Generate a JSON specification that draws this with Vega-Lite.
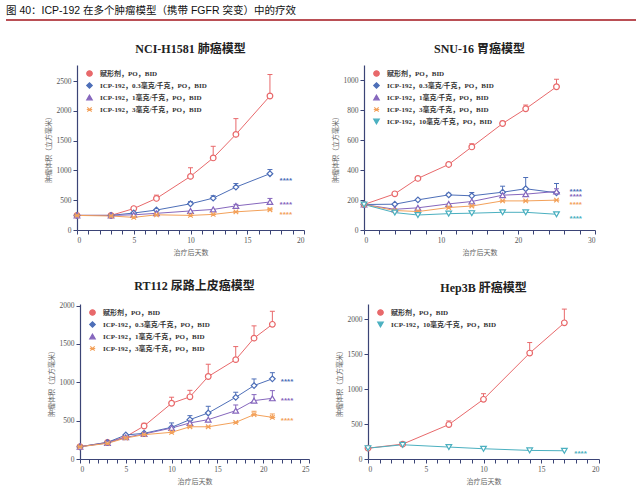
{
  "$schema": "https://vega.github.io/schema/vega-lite/v6.json",
  "background": "white",
  "padding": 5,
  "bounds": "flush",
  "spacing": 45,
  "resolve": {"scale": {"color": "independent", "shape": "independent"}, "legend": {"color": "independent", "shape": "independent"}},
  "config": {
    "view": {"stroke": null},
    "axis": {"grid": false, "domainColor": "#3b4476", "domainWidth": 1.2, "tickColor": "#3b4476", "tickSize": 4, "labelFont": "Liberation Serif", "labelFontSize": 7.5, "labelColor": "#555555", "labelPadding": 2, "titleFont": "Noto Sans CJK SC", "titleFontSize": 7, "titleFontWeight": "normal", "titleColor": "#666666", "titlePadding": 5, "format": "d"},
    "axisX": {"labelOverlap": false, "labelExpr": "datum.value % 5 === 0 ? datum.label : ''", "encode": {"ticks": {"update": {"y2": {"signal": "datum.value % 5 === 0 ? 4 : 2"}}}}},
    "legend": {"orient": "none", "legendX": 9, "legendY": 5, "padding": 0, "labelFont": "Liberation Serif, Noto Sans CJK SC", "labelFontSize": 7, "labelFontWeight": "bold", "labelColor": "#333333", "labelLimit": 250, "labelOffset": 7, "symbolSize": 30, "symbolStrokeWidth": 1.2, "symbolOpacity": 1, "rowPadding": 1, "titleFontSize": 0},
    "title": {"font": "Liberation Serif, Noto Sans CJK SC", "fontSize": 12, "fontWeight": "bold", "color": "#222222", "offset": 9, "anchor": "middle"}
  },
  "datasets": {
    "p1": [
      {"s": "赋形剂，PO，BID", "d": 0, "v": 245, "e": null},
      {"s": "赋形剂，PO，BID", "d": 3, "v": 245, "e": null},
      {"s": "赋形剂，PO，BID", "d": 5, "v": 360, "e": 390},
      {"s": "赋形剂，PO，BID", "d": 7, "v": 530, "e": 585},
      {"s": "赋形剂，PO，BID", "d": 10, "v": 900, "e": 1045},
      {"s": "赋形剂，PO，BID", "d": 12, "v": 1210, "e": 1405},
      {"s": "赋形剂，PO，BID", "d": 14, "v": 1605, "e": 1870},
      {"s": "赋形剂，PO，BID", "d": 17, "v": 2250, "e": 2610},
      {"s": "ICP-192，0.3毫克/千克，PO，BID", "d": 0, "v": 245, "e": null},
      {"s": "ICP-192，0.3毫克/千克，PO，BID", "d": 3, "v": 245, "e": null},
      {"s": "ICP-192，0.3毫克/千克，PO，BID", "d": 5, "v": 285, "e": null},
      {"s": "ICP-192，0.3毫克/千克，PO，BID", "d": 7, "v": 335, "e": null},
      {"s": "ICP-192，0.3毫克/千克，PO，BID", "d": 10, "v": 440, "e": 475},
      {"s": "ICP-192，0.3毫克/千克，PO，BID", "d": 12, "v": 535, "e": 575},
      {"s": "ICP-192，0.3毫克/千克，PO，BID", "d": 14, "v": 720, "e": 780},
      {"s": "ICP-192，0.3毫克/千克，PO，BID", "d": 17, "v": 945, "e": 1015},
      {"s": "ICP-192，1毫克/千克，PO，BID", "d": 0, "v": 245, "e": null},
      {"s": "ICP-192，1毫克/千克，PO，BID", "d": 3, "v": 245, "e": null},
      {"s": "ICP-192，1毫克/千克，PO，BID", "d": 5, "v": 255, "e": null},
      {"s": "ICP-192，1毫克/千克，PO，BID", "d": 7, "v": 280, "e": null},
      {"s": "ICP-192，1毫克/千克，PO，BID", "d": 10, "v": 320, "e": null},
      {"s": "ICP-192，1毫克/千克，PO，BID", "d": 12, "v": 345, "e": null},
      {"s": "ICP-192，1毫克/千克，PO，BID", "d": 14, "v": 405, "e": 430},
      {"s": "ICP-192，1毫克/千克，PO，BID", "d": 17, "v": 470, "e": 530},
      {"s": "ICP-192，3毫克/千克，PO，BID", "d": 0, "v": 245, "e": null},
      {"s": "ICP-192，3毫克/千克，PO，BID", "d": 3, "v": 235, "e": null},
      {"s": "ICP-192，3毫克/千克，PO，BID", "d": 5, "v": 212, "e": null},
      {"s": "ICP-192，3毫克/千克，PO，BID", "d": 7, "v": 255, "e": null},
      {"s": "ICP-192，3毫克/千克，PO，BID", "d": 10, "v": 245, "e": null},
      {"s": "ICP-192，3毫克/千克，PO，BID", "d": 12, "v": 262, "e": null},
      {"s": "ICP-192，3毫克/千克，PO，BID", "d": 14, "v": 305, "e": null},
      {"s": "ICP-192，3毫克/千克，PO，BID", "d": 17, "v": 340, "e": 365}
    ],
    "p2": [
      {"s": "赋形剂，PO，BID", "d": 0, "v": 170, "e": null},
      {"s": "赋形剂，PO，BID", "d": 4, "v": 241, "e": null},
      {"s": "赋形剂，PO，BID", "d": 7, "v": 344, "e": null},
      {"s": "赋形剂，PO，BID", "d": 11, "v": 437, "e": null},
      {"s": "赋形剂，PO，BID", "d": 14, "v": 554, "e": 575},
      {"s": "赋形剂，PO，BID", "d": 18, "v": 710, "e": 725},
      {"s": "赋形剂，PO，BID", "d": 21, "v": 808, "e": 833},
      {"s": "赋形剂，PO，BID", "d": 25, "v": 955, "e": 1005},
      {"s": "ICP-192，0.3毫克/千克，PO，BID", "d": 0, "v": 170, "e": null},
      {"s": "ICP-192，0.3毫克/千克，PO，BID", "d": 4, "v": 172, "e": null},
      {"s": "ICP-192，0.3毫克/千克，PO，BID", "d": 7, "v": 201, "e": null},
      {"s": "ICP-192，0.3毫克/千克，PO，BID", "d": 11, "v": 234, "e": 245},
      {"s": "ICP-192，0.3毫克/千克，PO，BID", "d": 14, "v": 228, "e": 250},
      {"s": "ICP-192，0.3毫克/千克，PO，BID", "d": 18, "v": 252, "e": 292},
      {"s": "ICP-192，0.3毫克/千克，PO，BID", "d": 21, "v": 275, "e": 350},
      {"s": "ICP-192，0.3毫克/千克，PO，BID", "d": 25, "v": 248, "e": 310},
      {"s": "ICP-192，1毫克/千克，PO，BID", "d": 0, "v": 170, "e": null},
      {"s": "ICP-192，1毫克/千克，PO，BID", "d": 4, "v": 138, "e": null},
      {"s": "ICP-192，1毫克/千克，PO，BID", "d": 7, "v": 148, "e": null},
      {"s": "ICP-192，1毫克/千克，PO，BID", "d": 11, "v": 174, "e": null},
      {"s": "ICP-192，1毫克/千克，PO，BID", "d": 14, "v": 190, "e": null},
      {"s": "ICP-192，1毫克/千克，PO，BID", "d": 18, "v": 232, "e": null},
      {"s": "ICP-192，1毫克/千克，PO，BID", "d": 21, "v": 239, "e": null},
      {"s": "ICP-192，1毫克/千克，PO，BID", "d": 25, "v": 257, "e": 275},
      {"s": "ICP-192，3毫克/千克，PO，BID", "d": 0, "v": 170, "e": null},
      {"s": "ICP-192，3毫克/千克，PO，BID", "d": 4, "v": 130, "e": null},
      {"s": "ICP-192，3毫克/千克，PO，BID", "d": 7, "v": 123, "e": null},
      {"s": "ICP-192，3毫克/千克，PO，BID", "d": 11, "v": 150, "e": null},
      {"s": "ICP-192，3毫克/千克，PO，BID", "d": 14, "v": 160, "e": null},
      {"s": "ICP-192，3毫克/千克，PO，BID", "d": 18, "v": 194, "e": null},
      {"s": "ICP-192，3毫克/千克，PO，BID", "d": 21, "v": 194, "e": null},
      {"s": "ICP-192，3毫克/千克，PO，BID", "d": 25, "v": 199, "e": null},
      {"s": "ICP-192，10毫克/千克，PO，BID", "d": 0, "v": 170, "e": null},
      {"s": "ICP-192，10毫克/千克，PO，BID", "d": 4, "v": 116, "e": null},
      {"s": "ICP-192，10毫克/千克，PO，BID", "d": 7, "v": 100, "e": null},
      {"s": "ICP-192，10毫克/千克，PO，BID", "d": 11, "v": 109, "e": null},
      {"s": "ICP-192，10毫克/千克，PO，BID", "d": 14, "v": 112, "e": null},
      {"s": "ICP-192，10毫克/千克，PO，BID", "d": 18, "v": 118, "e": null},
      {"s": "ICP-192，10毫克/千克，PO，BID", "d": 21, "v": 118, "e": null},
      {"s": "ICP-192，10毫克/千克，PO，BID", "d": 25, "v": 105, "e": null}
    ],
    "p3": [
      {"s": "赋形剂，PO，BID", "d": 0, "v": 160, "e": null},
      {"s": "赋形剂，PO，BID", "d": 3, "v": 217, "e": null},
      {"s": "赋形剂，PO，BID", "d": 5, "v": 291, "e": null},
      {"s": "赋形剂，PO，BID", "d": 7, "v": 430, "e": 465},
      {"s": "赋形剂，PO，BID", "d": 10, "v": 726, "e": 805},
      {"s": "赋形剂，PO，BID", "d": 12, "v": 810, "e": 895},
      {"s": "赋形剂，PO，BID", "d": 14, "v": 1075, "e": 1235},
      {"s": "赋形剂，PO，BID", "d": 17, "v": 1295, "e": 1465},
      {"s": "赋形剂，PO，BID", "d": 19, "v": 1575, "e": 1735},
      {"s": "赋形剂，PO，BID", "d": 21, "v": 1755, "e": 1925},
      {"s": "ICP-192，0.3毫克/千克，PO，BID", "d": 0, "v": 160, "e": null},
      {"s": "ICP-192，0.3毫克/千克，PO，BID", "d": 3, "v": 217, "e": null},
      {"s": "ICP-192，0.3毫克/千克，PO，BID", "d": 5, "v": 313, "e": null},
      {"s": "ICP-192，0.3毫克/千克，PO，BID", "d": 7, "v": 335, "e": null},
      {"s": "ICP-192，0.3毫克/千克，PO，BID", "d": 10, "v": 413, "e": 470},
      {"s": "ICP-192，0.3毫克/千克，PO，BID", "d": 12, "v": 513, "e": 565},
      {"s": "ICP-192，0.3毫克/千克，PO，BID", "d": 14, "v": 600, "e": 687},
      {"s": "ICP-192，0.3毫克/千克，PO，BID", "d": 17, "v": 804, "e": 870},
      {"s": "ICP-192，0.3毫克/千克，PO，BID", "d": 19, "v": 957, "e": 1043},
      {"s": "ICP-192，0.3毫克/千克，PO，BID", "d": 21, "v": 1045, "e": 1125},
      {"s": "ICP-192，1毫克/千克，PO，BID", "d": 0, "v": 160, "e": null},
      {"s": "ICP-192，1毫克/千克，PO，BID", "d": 3, "v": 209, "e": null},
      {"s": "ICP-192，1毫克/千克，PO，BID", "d": 5, "v": 283, "e": null},
      {"s": "ICP-192，1毫克/千克，PO，BID", "d": 7, "v": 326, "e": null},
      {"s": "ICP-192，1毫克/千克，PO，BID", "d": 10, "v": 404, "e": null},
      {"s": "ICP-192，1毫克/千克，PO，BID", "d": 12, "v": 470, "e": null},
      {"s": "ICP-192，1毫克/千克，PO，BID", "d": 14, "v": 513, "e": null},
      {"s": "ICP-192，1毫克/千克，PO，BID", "d": 17, "v": 630, "e": 704},
      {"s": "ICP-192，1毫克/千克，PO，BID", "d": 19, "v": 761, "e": 839},
      {"s": "ICP-192，1毫克/千克，PO，BID", "d": 21, "v": 791, "e": 891},
      {"s": "ICP-192，3毫克/千克，PO，BID", "d": 0, "v": 160, "e": null},
      {"s": "ICP-192，3毫克/千克，PO，BID", "d": 3, "v": 204, "e": null},
      {"s": "ICP-192，3毫克/千克，PO，BID", "d": 5, "v": 274, "e": null},
      {"s": "ICP-192，3毫克/千克，PO，BID", "d": 7, "v": 317, "e": null},
      {"s": "ICP-192，3毫克/千克，PO，BID", "d": 10, "v": 348, "e": null},
      {"s": "ICP-192，3毫克/千克，PO，BID", "d": 12, "v": 420, "e": null},
      {"s": "ICP-192，3毫克/千克，PO，BID", "d": 14, "v": 420, "e": null},
      {"s": "ICP-192，3毫克/千克，PO，BID", "d": 17, "v": 478, "e": null},
      {"s": "ICP-192，3毫克/千克，PO，BID", "d": 19, "v": 578, "e": 622},
      {"s": "ICP-192，3毫克/千克，PO，BID", "d": 21, "v": 543, "e": 587}
    ],
    "p4": [
      {"s": "赋形剂，PO，BID", "d": 0, "v": 155, "e": null},
      {"s": "赋形剂，PO，BID", "d": 3, "v": 213, "e": null},
      {"s": "赋形剂，PO，BID", "d": 7, "v": 493, "e": 545},
      {"s": "赋形剂，PO，BID", "d": 10, "v": 855, "e": 935},
      {"s": "赋形剂，PO，BID", "d": 14, "v": 1517, "e": 1668},
      {"s": "赋形剂，PO，BID", "d": 17, "v": 1950, "e": 2147},
      {"s": "ICP-192，10毫克/千克，PO，BID", "d": 0, "v": 155, "e": null},
      {"s": "ICP-192，10毫克/千克，PO，BID", "d": 3, "v": 204, "e": null},
      {"s": "ICP-192，10毫克/千克，PO，BID", "d": 7, "v": 171, "e": null},
      {"s": "ICP-192，10毫克/千克，PO，BID", "d": 10, "v": 147, "e": null},
      {"s": "ICP-192，10毫克/千克，PO，BID", "d": 14, "v": 123, "e": null},
      {"s": "ICP-192，10毫克/千克，PO，BID", "d": 17, "v": 118, "e": null}
    ],
    "s1": [
      {"s": "ICP-192，0.3毫克/千克，PO，BID", "d": 18.4, "v": 860, "t": "****"},
      {"s": "ICP-192，1毫克/千克，PO，BID", "d": 18.4, "v": 453, "t": "****"},
      {"s": "ICP-192，3毫克/千克，PO，BID", "d": 18.4, "v": 285, "t": "****"}
    ],
    "s2": [
      {"s": "ICP-192，0.3毫克/千克，PO，BID", "d": 27.5, "v": 266, "t": "****"},
      {"s": "ICP-192，1毫克/千克，PO，BID", "d": 27.5, "v": 233, "t": "****"},
      {"s": "ICP-192，3毫克/千克，PO，BID", "d": 27.5, "v": 183, "t": "****"},
      {"s": "ICP-192，10毫克/千克，PO，BID", "d": 27.5, "v": 87, "t": "****"}
    ],
    "s3": [
      {"s": "ICP-192，0.3毫克/千克，PO，BID", "d": 22.6, "v": 1033, "t": "****"},
      {"s": "ICP-192，1毫克/千克，PO，BID", "d": 22.6, "v": 780, "t": "****"},
      {"s": "ICP-192，3毫克/千克，PO，BID", "d": 22.6, "v": 527, "t": "****"}
    ],
    "s4": [
      {"s": "ICP-192，10毫克/千克，PO，BID", "d": 18.4, "v": 100, "t": "****"}
    ]
  },
  "vconcat": [
    {
      "width": 630,
      "height": 1,
      "title": {"text": "图 40：ICP-192 在多个肿瘤模型（携带 FGFR 突变）中的疗效", "anchor": "start", "frame": "group", "font": "Liberation Sans, Noto Sans CJK SC", "fontSize": 10.5, "fontWeight": "normal", "color": "#111111", "offset": 3},
      "data": {"values": [{}]},
      "mark": {"type": "rule", "color": "#a3141c", "strokeWidth": 1.5},
      "encoding": {
        "x": {"datum": 0, "type": "quantitative", "scale": {"domain": [0, 1]}, "axis": null},
        "x2": {"datum": 1},
        "y": {"datum": 0, "type": "quantitative", "scale": {"domain": [0, 1]}, "axis": null}
      }
    },
    {
      "bounds": "flush",
      "spacing": 239,
      "resolve": {"scale": {"color": "independent", "shape": "independent"}, "legend": {"color": "independent", "shape": "independent"}},
      "vconcat": [
        {
          "bounds": "flush",
          "spacing": 60,
          "resolve": {"scale": {"color": "independent", "shape": "independent"}, "legend": {"color": "independent", "shape": "independent"}},
          "hconcat": [
            {"width": 11, "height": 165, "data": {"values": []}, "mark": "point", "encoding": {}},
            {
              "width": 227, "height": 165,
              "title": "NCI-H1581 肺癌模型",
              "encoding": {
                "x": {"field": "d", "type": "quantitative", "scale": {"domain": [0, 20], "nice": false}, "axis": {"values": [0, 1, 2, 3, 4, 5, 6, 7, 8, 9, 10, 11, 12, 13, 14, 15, 16, 17, 18, 19, 20], "title": "治疗后天数"}},
                "y": {"field": "v", "type": "quantitative", "scale": {"domain": [0, 2770], "nice": false}, "axis": {"values": [0, 500, 1000, 1500, 2000, 2500], "title": "肿瘤体积（立方毫米）"}},
                "color": {"field": "s", "type": "nominal", "scale": {"domain": ["赋形剂，PO，BID", "ICP-192，0.3毫克/千克，PO，BID", "ICP-192，1毫克/千克，PO，BID", "ICP-192，3毫克/千克，PO，BID"], "range": ["#e8696b", "#4e6fb8", "#8667bd", "#f3a15a"]}, "legend": {"title": null}},
                "shape": {"field": "s", "type": "nominal", "scale": {"domain": ["赋形剂，PO，BID", "ICP-192，0.3毫克/千克，PO，BID", "ICP-192，1毫克/千克，PO，BID", "ICP-192，3毫克/千克，PO，BID"], "range": ["circle", "diamond", "triangle-up", "M-0.8,-0.8L0.8,0.8M-0.8,0.8L0.8,-0.8M-1,0L1,0"]}, "legend": {"title": null}}
              },
              "layer": [
                {"data": {"name": "p1"}, "mark": {"type": "point", "filled": false, "fill": "white", "size": 32, "strokeWidth": 1.2, "opacity": 0}},
                {"data": {"name": "p1"}, "mark": {"type": "rule", "strokeWidth": 1}, "encoding": {"y2": {"field": "e"}}},
                {"data": {"name": "p1"}, "mark": {"type": "point", "shape": "stroke", "filled": false, "size": 25, "strokeWidth": 1, "opacity": 1}, "encoding": {"y": {"field": "e", "type": "quantitative"}, "shape": {"value": "stroke"}}},
                {"data": {"name": "p1"}, "mark": {"type": "line", "strokeWidth": 1}},
                {"data": {"name": "p1"}, "mark": {"type": "point", "filled": false, "fill": "white", "size": 32, "strokeWidth": 1.2, "opacity": 1}},
                {"data": {"name": "s1"}, "mark": {"type": "text", "fontSize": 8, "fontWeight": "bold", "baseline": "middle", "dy": 2}, "encoding": {"text": {"field": "t"}, "shape": {"value": "circle"}, "color": {"field": "s", "type": "nominal", "legend": null}}}
              ]
            },
            {
              "width": 231, "height": 165,
              "title": "SNU-16 胃癌模型",
              "encoding": {
                "x": {"field": "d", "type": "quantitative", "scale": {"domain": [0, 30], "nice": false}, "axis": {"values": [0, 2, 4, 6, 8, 10, 12, 14, 16, 18, 20, 22, 24, 26, 28, 30], "title": "治疗后天数", "labelExpr": "datum.value % 10 === 0 ? datum.label : ''", "encode": {"ticks": {"update": {"y2": {"signal": "datum.value % 10 === 0 ? 4 : 2"}}}}}},
                "y": {"field": "v", "type": "quantitative", "scale": {"domain": [0, 1100], "nice": false}, "axis": {"values": [0, 200, 400, 600, 800, 1000], "title": "肿瘤体积（立方毫米）"}},
                "color": {"field": "s", "type": "nominal", "scale": {"domain": ["赋形剂，PO，BID", "ICP-192，0.3毫克/千克，PO，BID", "ICP-192，1毫克/千克，PO，BID", "ICP-192，3毫克/千克，PO，BID", "ICP-192，10毫克/千克，PO，BID"], "range": ["#e8696b", "#4e6fb8", "#8667bd", "#f3a15a", "#4bb0c0"]}, "legend": {"title": null}},
                "shape": {"field": "s", "type": "nominal", "scale": {"domain": ["赋形剂，PO，BID", "ICP-192，0.3毫克/千克，PO，BID", "ICP-192，1毫克/千克，PO，BID", "ICP-192，3毫克/千克，PO，BID", "ICP-192，10毫克/千克，PO，BID"], "range": ["circle", "diamond", "triangle-up", "M-0.8,-0.8L0.8,0.8M-0.8,0.8L0.8,-0.8M-1,0L1,0", "triangle-down"]}, "legend": {"title": null}}
              },
              "layer": [
                {"data": {"name": "p2"}, "mark": {"type": "point", "filled": false, "fill": "white", "size": 32, "strokeWidth": 1.2, "opacity": 0}},
                {"data": {"name": "p2"}, "mark": {"type": "rule", "strokeWidth": 1}, "encoding": {"y2": {"field": "e"}}},
                {"data": {"name": "p2"}, "mark": {"type": "point", "shape": "stroke", "filled": false, "size": 25, "strokeWidth": 1, "opacity": 1}, "encoding": {"y": {"field": "e", "type": "quantitative"}, "shape": {"value": "stroke"}}},
                {"data": {"name": "p2"}, "mark": {"type": "line", "strokeWidth": 1}},
                {"data": {"name": "p2"}, "mark": {"type": "point", "filled": false, "fill": "white", "size": 32, "strokeWidth": 1.2, "opacity": 1}},
                {"data": {"name": "s2"}, "mark": {"type": "text", "fontSize": 8, "fontWeight": "bold", "baseline": "middle", "dy": 2}, "encoding": {"text": {"field": "t"}, "shape": {"value": "circle"}, "color": {"field": "s", "type": "nominal", "legend": null}}}
              ]
            }
          ]
        },
        {
          "bounds": "flush",
          "spacing": 59,
          "resolve": {"scale": {"color": "independent", "shape": "independent"}, "legend": {"color": "independent", "shape": "independent"}},
          "hconcat": [
            {"width": 15, "height": 155, "data": {"values": []}, "mark": "point", "encoding": {}},
            {
              "width": 229, "height": 155,
              "title": "RT112 尿路上皮癌模型",
              "encoding": {
                "x": {"field": "d", "type": "quantitative", "scale": {"domain": [0, 25], "nice": false}, "axis": {"values": [0, 1, 2, 3, 4, 5, 6, 7, 8, 9, 10, 11, 12, 13, 14, 15, 16, 17, 18, 19, 20, 21, 22, 23, 24, 25], "title": "治疗后天数"}},
                "y": {"field": "v", "type": "quantitative", "scale": {"domain": [0, 2020], "nice": false}, "axis": {"values": [0, 500, 1000, 1500, 2000], "title": "肿瘤体积（立方毫米）"}},
                "color": {"field": "s", "type": "nominal", "scale": {"domain": ["赋形剂，PO，BID", "ICP-192，0.3毫克/千克，PO，BID", "ICP-192，1毫克/千克，PO，BID", "ICP-192，3毫克/千克，PO，BID"], "range": ["#e8696b", "#4e6fb8", "#8667bd", "#f3a15a"]}, "legend": {"title": null}},
                "shape": {"field": "s", "type": "nominal", "scale": {"domain": ["赋形剂，PO，BID", "ICP-192，0.3毫克/千克，PO，BID", "ICP-192，1毫克/千克，PO，BID", "ICP-192，3毫克/千克，PO，BID"], "range": ["circle", "diamond", "triangle-up", "M-0.8,-0.8L0.8,0.8M-0.8,0.8L0.8,-0.8M-1,0L1,0"]}, "legend": {"title": null}}
              },
              "layer": [
                {"data": {"name": "p3"}, "mark": {"type": "point", "filled": false, "fill": "white", "size": 32, "strokeWidth": 1.2, "opacity": 0}},
                {"data": {"name": "p3"}, "mark": {"type": "rule", "strokeWidth": 1}, "encoding": {"y2": {"field": "e"}}},
                {"data": {"name": "p3"}, "mark": {"type": "point", "shape": "stroke", "filled": false, "size": 25, "strokeWidth": 1, "opacity": 1}, "encoding": {"y": {"field": "e", "type": "quantitative"}, "shape": {"value": "stroke"}}},
                {"data": {"name": "p3"}, "mark": {"type": "line", "strokeWidth": 1}},
                {"data": {"name": "p3"}, "mark": {"type": "point", "filled": false, "fill": "white", "size": 32, "strokeWidth": 1.2, "opacity": 1}},
                {"data": {"name": "s3"}, "mark": {"type": "text", "fontSize": 8, "fontWeight": "bold", "baseline": "middle", "dy": 2}, "encoding": {"text": {"field": "t"}, "shape": {"value": "circle"}, "color": {"field": "s", "type": "nominal", "legend": null}}}
              ]
            },
            {
              "width": 231, "height": 155,
              "title": "Hep3B 肝癌模型",
              "encoding": {
                "x": {"field": "d", "type": "quantitative", "scale": {"domain": [0, 20], "nice": false}, "axis": {"values": [0, 1, 2, 3, 4, 5, 6, 7, 8, 9, 10, 11, 12, 13, 14, 15, 16, 17, 18, 19, 20], "title": "治疗后天数"}},
                "y": {"field": "v", "type": "quantitative", "scale": {"domain": [0, 2220], "nice": false}, "axis": {"values": [0, 500, 1000, 1500, 2000], "title": "肿瘤体积（立方毫米）"}},
                "color": {"field": "s", "type": "nominal", "scale": {"domain": ["赋形剂，PO，BID", "ICP-192，10毫克/千克，PO，BID"], "range": ["#e8696b", "#4bb0c0"]}, "legend": {"title": null}},
                "shape": {"field": "s", "type": "nominal", "scale": {"domain": ["赋形剂，PO，BID", "ICP-192，10毫克/千克，PO，BID"], "range": ["circle", "triangle-down"]}, "legend": {"title": null}}
              },
              "layer": [
                {"data": {"name": "p4"}, "mark": {"type": "point", "filled": false, "fill": "white", "size": 32, "strokeWidth": 1.2, "opacity": 0}},
                {"data": {"name": "p4"}, "mark": {"type": "rule", "strokeWidth": 1}, "encoding": {"y2": {"field": "e"}}},
                {"data": {"name": "p4"}, "mark": {"type": "point", "shape": "stroke", "filled": false, "size": 25, "strokeWidth": 1, "opacity": 1}, "encoding": {"y": {"field": "e", "type": "quantitative"}, "shape": {"value": "stroke"}}},
                {"data": {"name": "p4"}, "mark": {"type": "line", "strokeWidth": 1}},
                {"data": {"name": "p4"}, "mark": {"type": "point", "filled": false, "fill": "white", "size": 32, "strokeWidth": 1.2, "opacity": 1}},
                {"data": {"name": "s4"}, "mark": {"type": "text", "fontSize": 8, "fontWeight": "bold", "baseline": "middle", "dy": 2}, "encoding": {"text": {"field": "t"}, "shape": {"value": "circle"}, "color": {"field": "s", "type": "nominal", "legend": null}}}
              ]
            }
          ]
        }
      ]
    }
  ]
}
